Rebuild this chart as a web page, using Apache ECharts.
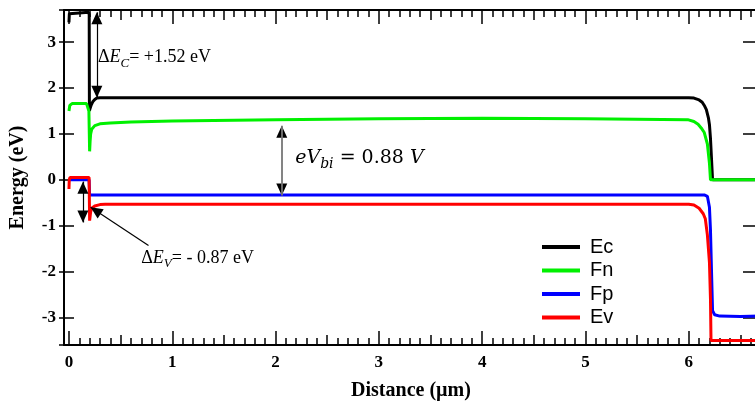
<!DOCTYPE html>
<html><head><meta charset="utf-8">
<script src="https://cdn.jsdelivr.net/npm/echarts@6/dist/echarts.min.js"></script>
<style>html,body{margin:0;padding:0;background:#fff;overflow:hidden}#c{width:761px;height:406px}</style>
</head><body><div id="c"></div>
<script>
// ---- data ----
const seriesNames = ['Ec', 'Fn', 'Fp', 'Ev'];
const ecX = [0, 0.004, 0.015, 0.19, 0.196, 0.198, 0.205, 0.215, 0.23, 0.25, 0.27, 0.3, 0.4, 1, 2, 3, 4, 5, 6, 6.05, 6.1, 6.13, 6.15, 6.17, 6.19, 6.2, 6.21, 6.22, 6.23, 6.4, 6.7];
const ecY = [3.43, 3.62, 3.65, 3.65, 3.6, 1.5, 1.56, 1.63, 1.7, 1.75, 1.78, 1.79, 1.79, 1.79, 1.79, 1.79, 1.79, 1.79, 1.79, 1.78, 1.74, 1.69, 1.62, 1.53, 1.35, 1.2, 0.9, 0.45, 0.0, 0.0, 0.0];
const fnX = [0, 0.008, 0.03, 0.17, 0.185, 0.193, 0.197, 0.2, 0.205, 0.21, 0.22, 0.25, 0.3, 0.4, 0.6, 1, 2, 3, 4, 5, 5.99, 6.05, 6.09, 6.12, 6.15, 6.18, 6.2, 6.21, 6.4, 6.7];
const fnY = [1.5, 1.62, 1.66, 1.66, 1.63, 1.5, 1.0, 0.62, 0.85, 1.0, 1.1, 1.18, 1.22, 1.24, 1.26, 1.28, 1.31, 1.33, 1.34, 1.33, 1.31, 1.27, 1.21, 1.13, 1.03, 0.78, 0.36, 0.0, 0.0, 0.0];
const fpX = [0, 0.195, 0.2, 1, 2, 3, 4, 5, 6, 6.15, 6.18, 6.2, 6.21, 6.22, 6.23, 6.25, 6.3, 6.5, 6.7];
const fpY = [0.0, 0.0, -0.33, -0.33, -0.33, -0.33, -0.33, -0.33, -0.33, -0.33, -0.36, -0.6, -1.1, -2.0, -2.85, -2.94, -2.97, -2.98, -2.97];
const evX = [0, 0.003, 0.01, 0.195, 0.2, 0.21, 0.22, 0.25, 0.3, 0.35, 1, 2, 3, 4, 5, 6, 6.05, 6.1, 6.14, 6.16, 6.18, 6.2, 6.21, 6.215, 6.4, 6.7];
const evY = [-0.2, 0.0, 0.05, 0.05, -0.89, -0.7, -0.62, -0.57, -0.54, -0.535, -0.535, -0.535, -0.535, -0.535, -0.535, -0.535, -0.55, -0.62, -0.74, -0.85, -1.2, -1.8, -2.6, -3.5, -3.5, -3.5];
const xRange = [-0.048, 6.67];
const yRange = [-3.6, 3.7];
// annotations (data coordinates)
const dEcArrow = [[0.27, 3.65], [0.27, 1.79]];
const dEvArrow = [[0.135, -0.04], [0.135, -0.93]];
const dEvLeader = [[0.77, -1.43], [0.21, -0.6]];
const vbiArrow = [[2.06, 1.18], [2.06, -0.34]];
const dEcTextPos = [0.28, 2.66];
const dEvTextPos = [0.70, -1.71];
const vbiTextPos = [2.19, 0.47];

const colors = ['#000000', '#00f000', '#0000ff', '#ff0000'];
const pairs = (xs, ys) => xs.map((x, i) => [x, ys[i]]);
const ARROW = 'path://M0,-10M0,0L5,10L-5,10Z';
const serif = 'Liberation Serif';
const intFmt = v => Math.abs(v - Math.round(v)) < 1e-6 ? String(Math.round(v)) : '';

const el = document.getElementById('c');
const chart = echarts.init(el, null, {renderer: 'canvas'});
const GRID = {left: 62, right: 0, top: 10, bottom: 54};
const gridWidth = el.clientWidth - GRID.left - GRID.right;
const mathRich = {
  n: {fontFamily: serif, fontSize: 18, color: '#000', lineHeight: 24},
  i: {fontFamily: serif, fontSize: 18, fontStyle: 'italic', color: '#000', lineHeight: 24},
  s: {fontFamily: serif, fontSize: 13, fontStyle: 'italic', color: '#000', lineHeight: 12, verticalAlign: 'bottom'}
};
const cmRich = {
  n: {fontFamily: 'DejaVu Serif', fontSize: 19, color: '#000', lineHeight: 26},
  i: {fontFamily: 'DejaVu Serif', fontSize: 19, fontStyle: 'italic', color: '#000', lineHeight: 26},
  s: {fontFamily: 'DejaVu Serif', fontSize: 14, fontStyle: 'italic', color: '#000', lineHeight: 14, verticalAlign: 'bottom'}
};
const textPoint = (pos, fmt, rich) => ({
  coord: pos, symbol: 'circle', symbolSize: 0,
  label: {show: true, position: 'right', distance: 0, formatter: fmt, rich: rich}
});
const axLine = () => ({show: true, onZero: false, lineStyle: {color: '#000', width: 2}});
const noLine = () => ({show: false, onZero: false});
const tick = (len, inside) => ({show: true, inside: inside !== false, length: len, lineStyle: {color: '#000', width: 1.5}});
const noTick = () => ({show: false});
const minor = () => ({show: true, splitNumber: 10, length: 7, lineStyle: {color: '#000', width: 1.5}});
const numLabel = m => ({show: true, formatter: intFmt, fontFamily: serif, fontWeight: 'bold', fontSize: 17, color: '#000', margin: m});
const nameStyle = () => ({fontFamily: serif, fontWeight: 'bold', fontSize: 20, color: '#000'});
const xAx = (pos, split, extra) => Object.assign({
  type: 'value', min: xRange[0], max: xRange[1], position: pos, splitNumber: split,
  splitLine: {show: false}, axisLabel: {show: false}
}, extra);
const yAx = (pos, extra) => Object.assign({
  type: 'value', min: yRange[0], max: yRange[1], position: pos, splitNumber: 7,
  splitLine: {show: false}, axisLabel: {show: false}
}, extra);

chart.setOption({
  animation: false,
  backgroundColor: '#fff',
  grid: GRID,
  legend: {
    data: seriesNames, orient: 'vertical', left: 537, top: 232,
    icon: 'path://M0,0L40,0L40,4L0,4Z',
    itemWidth: 38, itemHeight: 4, itemGap: 3.5,
    textStyle: {fontFamily: 'Liberation Sans', fontSize: 20, color: '#000', padding: [0, 0, 0, 5]}
  },
  xAxis: [
    xAx('bottom', 7, {
      axisLine: noLine(), axisTick: noTick(), axisLabel: numLabel(9),
      name: 'Distance (µm)', nameLocation: 'middle', nameGap: 36, nameTextStyle: nameStyle()
    }),
    xAx('top', 7, {axisLine: axLine(), axisTick: tick(14), minorTick: minor()}),
    xAx('bottom', 7, {axisLine: axLine(), axisTick: tick(14), minorTick: minor()}),
    xAx('top', 14, {axisLine: noLine(), axisTick: tick(10)}),
    xAx('bottom', 14, {axisLine: noLine(), axisTick: tick(10)})
  ],
  yAxis: [
    yAx('left', {
      axisLine: noLine(), axisTick: noTick(), axisLabel: numLabel(8),
      name: 'Energy (eV)', nameLocation: 'middle', nameGap: 36, nameRotate: 90, nameTextStyle: nameStyle()
    }),
    yAx('right', {axisLine: axLine(), axisTick: tick(15)}),
    yAx('left', {axisLine: axLine(), axisTick: noTick()}),
    // left-side ticks: a right-type axis moved onto the left frame, ticks pointing into the plot
    yAx('right', {offset: -gridWidth, axisLine: noLine(), axisTick: tick(15, false)})
  ],
  series: [
    {name: 'Ec', data: pairs(ecX, ecY)},
    {name: 'Fn', data: pairs(fnX, fnY)},
    {name: 'Fp', data: pairs(fpX, fpY)},
    {name: 'Ev', data: pairs(evX, evY)}
  ].map((s, i) => Object.assign({
    type: 'line', showSymbol: false, symbol: 'none', xAxisIndex: 0, yAxisIndex: 0,
    color: colors[i], lineStyle: {color: colors[i], width: 3}, clip: true
  }, s)).concat([{
    name: 'annot', type: 'line', data: [], xAxisIndex: 0, yAxisIndex: 0, silent: true,
    markLine: {
      silent: true, symbol: [ARROW, ARROW], symbolSize: [11, 24], label: {show: false},
      lineStyle: {color: '#000', width: 1.2, type: 'solid'},
      data: [
        [{coord: dEcArrow[0]}, {coord: dEcArrow[1]}],
        [{coord: dEvArrow[0]}, {coord: dEvArrow[1]}],
        [{coord: dEvLeader[0], symbol: 'none'}, {coord: dEvLeader[1], symbol: ARROW}],
        [{coord: vbiArrow[0], lineStyle: {color: '#000', width: 0}}, {coord: vbiArrow[1]}],
        [{coord: vbiArrow[0], symbol: 'none', lineStyle: {color: '#777', width: 1.8}}, {coord: vbiArrow[1], symbol: 'none'}]
      ]
    },
    markPoint: {
      silent: true,
      data: [
        textPoint(dEcTextPos, '{n|Δ}{i|E}{s|C}{n|= +1.52 eV}', mathRich),
        textPoint(dEvTextPos, '{n|Δ}{i|E}{s|V}{n|= - 0.87 eV}', mathRich),
        textPoint(vbiTextPos, '{i|eV}{s|bi}{n| = 0.88 }{i|V}', cmRich)
      ]
    }
  }])
});
</script></body></html>
